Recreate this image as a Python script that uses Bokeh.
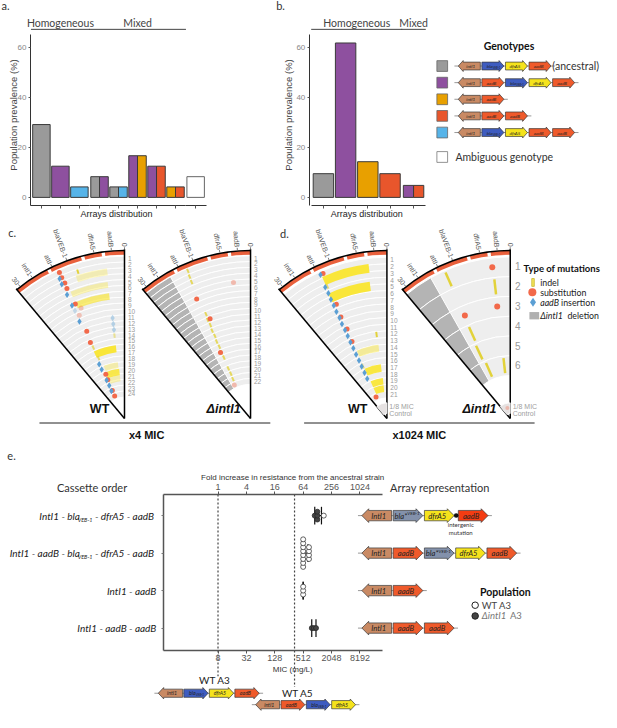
import math
from bokeh.plotting import figure
from bokeh.models import (Range1d, LinearAxis, LogAxis, LogScale, FixedTicker,
                          NumeralTickFormatter, CustomJSTickFormatter)
from bokeh.core.properties import value
from bokeh.embed import file_html
from bokeh.resources import INLINE

# ======================= DATA =======================
# genotypes (legend)
geno_ids = ["G1", "G2", "G3", "G4", "G5"]
geno_colors = {"G1": "#9a9a9a", "G2": "#8e509f", "G3": "#e8a000", "G4": "#e8562c",
               "G5": "#56b4e9", "AMB": "#ffffff"}
geno_arrays = [["intI1", "bla", "dfrA5", "aadB"],
               ["intI1", "aadB", "bla", "dfrA5", "aadB"],
               ["intI1", "aadB"],
               ["intI1", "aadB", "aadB"],
               ["intI1", "bla", "dfrA5", "aadB", "aadB"]]

# panel a
a_facets = ["Homogeneous"] * 3 + ["Mixed"] * 5 + ["Ambiguous"]
a_geno_left = ["G1", "G2", "G5", "G1", "G1", "G2", "G2", "G3", "AMB"]
a_geno_right = ["G1", "G2", "G5", "G2", "G5", "G3", "G4", "G4", "AMB"]
a_prevalence = [29.2, 12.5, 4.2, 8.3, 4.2, 16.7, 12.5, 4.2, 8.3]
# panel b
b_facets = ["Homogeneous"] * 4 + ["Mixed"]
b_geno_left = ["G1", "G2", "G3", "G4", "G2"]
b_geno_right = ["G1", "G2", "G3", "G4", "G4"]
b_prevalence = [9.5, 61.9, 14.3, 9.5, 4.8]
prev_ticks = [0, 20, 40, 60]

# fans: genome position units (0 .. 30)
arc_labels = ["30", "intI1", "attI", "blaVEB-1", "dfrA5", "aadB", "0"]
arc_label_pos = [30.0, 26.0, 20.0, 15.7, 8.2, 3.5, 0.0]
band_gap_pos = [5.7, 11.3, 21.0]
# (ring, position, alpha)
c_wt_sub = [(1, 18.8, 1), (2, 18.8, 1), (3, 18.6, 1), (4, 18.7, 1), (7, 18.2, 1), (8, 16.8, 0.35),
            (9, 18.5, 0.35), (12, 18.3, 1), (14, 18.9, 1), (20, 17.9, 1), (21, 18.3, 1),
            (23, 18.5, 1), (24, 18.5, 1)]
c_wt_ins = [(2, 19.5, 1), (3, 19.6, 1), (5, 19.5, 1), (7, 19.5, 1), (8, 19.3, 0.3), (10, 19.5, 1),
            (18, 19.6, 1), (19, 19.6, 1), (21, 19.6, 1), (22, 19.5, 1), (23, 19.9, 1),
            (11, 5.3, 0.4), (12, 5.3, 0.4), (13, 5.3, 0.4)]
c_wt_indel = [(2, 13.8, 1), (14, 5.4, 0.5), (15, 18.6, 0.7), (17, 18.2, 0.7)]
# (ring, thickness in rings, pos from, pos to, alpha)
c_wt_band = [(3.0, 1.2, 5.2, 14.7, 0.3), (5.2, 1.0, 5.5, 18.0, 0.35), (7.2, 1.1, 5.5, 17.9, 0.65),
             (16.2, 1.2, 5.3, 19.2, 0.95), (19.0, 1.0, 5.3, 16.8, 0.35), (20.2, 1.1, 4.8, 17.8, 0.85),
             (21.3, 1.0, 4.8, 17.0, 0.35)]
c_del_sub = [(5, 5.6, 0.4), (6, 19.0, 1), (10, 17.3, 1), (16, 19.2, 1), (22, 20.3, 0.4)]
c_del_indel = [(1, 18.0, 0.8), (2, 18.2, 0.8), (3, 18.3, 0.8), (9, 18.1, 0.8), (10, 18.4, 0.8),
               (11, 18.2, 0.8), (12, 18.5, 0.8), (13, 18.3, 0.8), (14, 18.6, 0.8), (15, 18.4, 0.8),
               (16, 18.7, 0.8), (17, 18.5, 0.8), (19, 18.8, 0.8), (20, 18.6, 0.8), (21, 18.9, 0.8)]
c_del_start = 23.0
d_wt_sub = [(1, 18.6, 1), (6, 18.7, 1), (8, 19.1, 1), (10, 18.8, 1), (12, 19.1, 1), (21, 21.0, 1)]
d_wt_ins = [(1, 19.4, 1), (3, 19.7, 1), (4, 19.6, 1), (5, 19.7, 1), (6, 19.7, 1), (7, 19.8, 1),
            (8, 19.7, 1), (9, 19.9, 1), (10, 19.8, 1), (11, 19.9, 1), (12, 20.0, 1), (13, 20.0, 1),
            (14, 20.1, 1), (15, 20.1, 1), (16, 20.3, 1), (17, 20.4, 1), (18, 20.7, 1)]
d_wt_indel = [(12, 5.5, 1), (3, 19.0, 0.7), (16, 19.3, 0.6)]
d_wt_band = [(2.0, 1.3, 5.3, 19.2, 0.95), (4.7, 1.4, 5.6, 19.6, 0.95), (14.0, 1.0, 5.1, 18.7, 0.45),
             (17.0, 1.1, 5.0, 18.9, 0.9), (19.0, 1.0, 4.5, 18.5, 0.9), (20.1, 1.0, 4.5, 18.5, 0.9)]
d_del_sub = [(1, 5.3, 1), (3, 5.2, 1), (3, 18.6, 1)]
d_del_indel = [(1, 18.7, 1), (2, 5.1, 1), (4, 19.0, 1), (5, 19.7, 1), (6, 18.5, 1), (6, 5.0, 1)]
d_del_start = 23.0

# panel e
e_rows = [4, 3, 2, 1]
e_lead = ["IntI1 - bla", "IntI1 - aadB - bla", "IntI1 - aadB", "IntI1 - aadB - aadB"]
e_sub = ["VEB-1", "VEB-1", "", ""]
e_tail = [" - dfrA5 - aadB", " - dfrA5 - aadB", "", ""]
e_arrays = [["intI1", "bla*", "dfrA5", "aadB*"],
            ["intI1", "aadB", "bla*", "dfrA5", "aadB"],
            ["intI1", "aadB"],
            ["intI1", "aadB", "aadB"]]
e_pt_row = [4, 4, 4, 4, 4] + [3] * 12 + [2, 2, 2] + [1, 1, 1]
e_pt_mic = [1024, 1024, 1024, 900, 1400] + [512] * 8 + [680] * 4 + [512, 512, 512] + [780, 860, 960]
e_pt_pop = ["D", "D", "D", "D", "WT"] + ["WT"] * 12 + ["WT"] * 3 + ["D", "D", "D"]
mic_ticks = [8, 32, 128, 512, 2048, 8192]
fold_ticks = [1, 4, 16, 64, 256, 1024]
ancestral_mic = [8, 336]
ancestral_names = ["WT A3", "WT A5"]
ancestral_arrays = [["intI1", "bla", "dfrA5", "aadB"], ["intI1", "aadB", "bla", "dfrA5"]]

GENE_COL = {"intI1": "#c98a64", "bla": "#3e5cc0", "dfrA5": "#f5e31c", "aadB": "#ef5a2b",
            "bla*": "#8391ab", "aadB*": "#f43c12"}

# ======================= FIGURE =======================
W_REF, H_REF = 617, 728
F_UI = "Lato"
F_PL = "Liberation Sans"

p = figure(width=601, height=712, x_range=Range1d(0, W_REF), y_range=Range1d(H_REF, 0),
           x_axis_location=None, y_axis_location=None, output_backend="svg",
           toolbar_location=None, min_border=0)
p.outline_line_color = None
p.grid.visible = False


def rng_x(v0, p0, v1, p1, log=False):
    f = math.log10 if log else (lambda v: v)
    a0, a1 = f(v0), f(v1)
    t0, t1 = p0 / W_REF, p1 / W_REF
    span = (a1 - a0) / (t1 - t0)
    s = a0 - t0 * span
    return Range1d(10 ** s, 10 ** (s + span)) if log else Range1d(s, s + span)


def rng_y(v0, p0, v1, p1):
    t0, t1 = (H_REF - p0) / H_REF, (H_REF - p1) / H_REF
    span = (v1 - v0) / (t1 - t0)
    s = v0 - t0 * span
    return Range1d(s, s + span)


def inv(px, v0, p0, v1, p1, log=False):
    if log:
        return 10 ** (math.log10(v0) + (px - p0) * (math.log10(v1) - math.log10(v0)) / (p1 - p0))
    return v0 + (px - p0) * (v1 - v0) / (p1 - p0)


AX = (0, 42.0, 1, 61.5)
BX = (0, 331.5, 1, 354.3)
AY = (0, 201.3, 60, 48.3)
MIC = (8, 223.3, 8192, 369.0)
FOLD = (1, 223.3, 1024, 369.0)
EROW = (1, 641.7, 4, 526.7)

p.extra_x_ranges = {"ax": rng_x(*AX), "bx": rng_x(*BX),
                    "mic": rng_x(*MIC, log=True), "fold": rng_x(*FOLD, log=True)}
p.extra_x_scales = {"mic": LogScale(), "fold": LogScale()}
p.extra_y_ranges = {"ay": rng_y(*AY), "erow": rng_y(*EROW)}


def T(x, y, s, size=10.0, font=F_UI, style="normal", color="#333333", align="left",
      baseline="middle", angle=0.0, xn="default", yn="default"):
    xs = list(x) if isinstance(x, (list, tuple)) else [x]
    ys = list(y) if isinstance(y, (list, tuple)) else [y]
    ss = list(s) if isinstance(s, (list, tuple)) else [s]
    n = max(len(xs), len(ys), len(ss))
    xs = xs * n if len(xs) == 1 else xs
    ys = ys * n if len(ys) == 1 else ys
    ss = ss * n if len(ss) == 1 else ss
    angs = list(angle) if isinstance(angle, (list, tuple)) else [angle] * n
    p.text(x=xs, y=ys, text=ss, angle=angs, text_font=value(font),
           text_font_size=value(f"{size}px"), text_font_style=style, text_color=color,
           text_align=align, text_baseline=baseline, x_range_name=xn, y_range_name=yn)


# ======================= PANELS a / b =======================
BW = 0.92


def bar_panel(facets, left, right, vals, xn, yaxis_x):
    order = []
    for f in facets:
        if f not in order:
            order.append(f)
    pos = [i + 0.06 * order.index(f) for i, f in enumerate(facets)]
    xs, ws, tops, cols, lcs = [], [], [], [], []
    for x, gl, gr, v in zip(pos, left, right, vals):
        lc = "#666666" if gl == "AMB" else "#3a3a3a"
        if gl == gr:
            xs += [x]; ws += [BW]; tops += [v]; cols += [geno_colors[gl]]; lcs += [lc]
        else:
            xs += [x - BW / 4, x + BW / 4]; ws += [BW / 2, BW / 2]; tops += [v, v]
            cols += [geno_colors[gl], geno_colors[gr]]; lcs += [lc, lc]
    p.vbar(x=xs, width=ws, top=tops, bottom=0, fill_color=cols, line_color=lcs, line_width=1,
           x_range_name=xn, y_range_name="ay")
    yax = LinearAxis(y_range_name="ay", fixed_location=yaxis_x,
                     bounds=(inv(209.3, *AY), inv(35.0, *AY)),
                     ticker=FixedTicker(ticks=prev_ticks), major_tick_out=2, major_tick_in=0,
                     minor_tick_line_color=None, axis_line_color="#333333",
                     major_tick_line_color="#555555", major_label_text_font_size="8px",
                     major_label_text_color="#888888", major_label_text_font=F_PL,
                     major_label_standoff=2)
    p.add_layout(yax, "left")
    for f in order:
        fp = [x for x, ff in zip(pos, facets) if ff == f]
        lo, hi = min(fp) - 0.55, max(fp) + 0.55
        xax = LinearAxis(x_range_name=xn, fixed_location=209.3, bounds=(lo, hi),
                         ticker=FixedTicker(ticks=fp), major_tick_out=3, major_tick_in=0,
                         minor_tick_line_color=None, axis_line_color="#333333",
                         major_tick_line_color="#555555",
                         formatter=CustomJSTickFormatter(code="return ''"))
        p.add_layout(xax, "below")
        if f != "Ambiguous":
            p.segment(x0=[lo], y0=[29.5], x1=[hi], y1=[29.5], line_color="#444444",
                      line_width=1, x_range_name=xn)
            T((lo + hi) / 2, 23.5, f, size=10.5, color="#444444", align="center", xn=xn)


bar_panel(a_facets, a_geno_left, a_geno_right, a_prevalence, "ax", 30.7)
bar_panel(b_facets, b_geno_left, b_geno_right, b_prevalence, "bx", 317.0)
T(13, 117, "Population prevalence (%)", size=9.5, font=F_PL, color="#444444",
  align="center", angle=math.pi / 2)
T(295.5, 117, "Population prevalence (%)", size=9.5, font=F_PL, color="#444444",
  align="center", angle=math.pi / 2)
T(119, 218, "Arrays distribution", size=9, font=F_PL, color="#222222", align="center")
T(376, 218, "Arrays distribution", size=9, font=F_PL, color="#222222", align="center")
T(1, 5, "a.", size=11)
T(283, 5, "b.", size=11)


# ======================= gene arrows =======================
def draw_array(genes, x_start, pitch, width, yc, hb, hh, hw, lsize, yn="default",
               int_label="intI1", extra=None, pad=4.0, line_col="#999999"):
    xs, ys, cols = [], [], []
    labs = []
    x = x_start
    last = x_start
    for i, g in enumerate(genes):
        if extra and i in extra:
            x += extra[i]
        x0, x1 = x, x + width
        if g == "intI1":
            px = [x1, x0 + hw, x0 + hw, x0, x0 + hw, x0 + hw, x1]
            cxl = (x0 + hw * 0.6 + x1) / 2
        else:
            px = [x0, x1 - hw, x1 - hw, x1, x1 - hw, x1 - hw, x0]
            cxl = (x0 + x1 - hw * 0.6) / 2
        py = [yc - hb, yc - hb, yc - hh, yc, yc + hh, yc + hb, yc + hb]
        xs.append(px); ys.append(py); cols.append(GENE_COL[g])
        labs.append((g, cxl))
        last = x1
        x += pitch
    p.segment(x0=[x_start - pad], y0=[yc], x1=[last + pad], y1=[yc], line_color=line_col,
              line_width=1, y_range_name=yn)
    p.patches(xs=xs, ys=ys, fill_color=cols, line_color="#3a3a3a", line_width=0.7,
              y_range_name=yn)
    for g, cxl in labs:
        if g.startswith("bla"):
            T(cxl + 1.2, yc, "bla" + ("*" if g == "bla*" else ""), size=lsize, style="italic",
              color="#222222", align="right", yn=yn)
            T(cxl + 1.4, yc + hb * 0.45, "VEB-1", size=lsize * 0.6, style="italic",
              color="#222222", align="left", yn=yn)
        else:
            lab = int_label if g == "intI1" else ("aadB" if g.startswith("aadB") else g)
            T(cxl, yc, lab, size=lsize, style="italic", color="#222222", align="center", yn=yn)
    return last


# legend genotypes
T(522, 47, "Genotypes", size=10.5, style="bold", color="#111111", align="center")
leg_y = [67, 84, 101, 118, 135]
p.rect(x=[453.5] * 5, y=leg_y, width=11, height=11, fill_color=[geno_colors[g] for g in geno_ids],
       line_color="#666666", line_width=0.8)
for arr, yy in zip(geno_arrays, leg_y):
    draw_array(arr, 470.0, 24.2, 22.6, yy, 4.0, 5.6, 5.0, 4.6)
T(566.5, 66.5, "(ancestral)", size=10.5, color="#333333")
p.rect(x=[453.5], y=[160], width=11, height=11, fill_color="white", line_color="#777777",
       line_width=0.8)
T(467, 160, "Ambiguous genotype", size=10.5, color="#333333")

# ======================= FANS =======================
UNIT_DEG = 1.283
SPAN = 31.2
DEG = math.pi / 180


def ang(pos):
    return (90.0 + pos * UNIT_DEG) * DEG


def pol(cx, cy, r, pos):
    a = ang(pos)
    return cx + r * math.cos(a), cy - r * math.sin(a)


def draw_fan(cx, cy, n, r1, dr, subs, ins, indels, bands, del_start=None, num_size=6.5,
             num_dx=3.5, indel_w=2.0, sub_size=5.0, ins_size=6.5, R=170.0):
    radii = [r1 - i * dr for i in range(n)]
    p.annular_wedge(x=cx, y=cy, inner_radius=[r - dr / 2 for r in radii],
                    outer_radius=[r + dr / 2 for r in radii], start_angle=ang(0),
                    end_angle=ang(SPAN), fill_color="#eeeeee", line_color="white", line_width=1)
    if del_start is not None:
        p.annular_wedge(x=cx, y=cy, inner_radius=[r - dr / 2 for r in radii],
                        outer_radius=[r + dr / 2 for r in radii], start_angle=ang(del_start),
                        end_angle=ang(SPAN), fill_color="#b4b4b4", line_color="white",
                        line_width=1)
    if bands:
        rr = [r1 - (b[0] - 1) * dr for b in bands]
        p.annular_wedge(x=cx, y=cy, inner_radius=[r - b[1] * dr / 2 for r, b in zip(rr, bands)],
                        outer_radius=[r + b[1] * dr / 2 for r, b in zip(rr, bands)],
                        start_angle=[ang(b[2]) for b in bands], end_angle=[ang(b[3]) for b in bands],
                        fill_color="#f9e52e", fill_alpha=[b[4] for b in bands], line_color=None)
    if indels:
        x0, y0, x1, y1, al = [], [], [], [], []
        for ring, pos, a in indels:
            r = r1 - (ring - 1) * dr
            xa, ya = pol(cx, cy, r - 0.38 * dr, pos)
            xb, yb = pol(cx, cy, r + 0.38 * dr, pos)
            x0.append(xa); y0.append(ya); x1.append(xb); y1.append(yb); al.append(a)
        p.segment(x0=x0, y0=y0, x1=x1, y1=y1, line_color="#e2d23a", line_width=indel_w,
                  line_alpha=al)
    for data, marker, col, size in ((subs, "circle", "#f2694a", sub_size),
                                    (ins, "diamond", "#5b9fd4", ins_size)):
        if not data:
            continue
        pts = [pol(cx, cy, r1 - (ring - 1) * dr, pos) for ring, pos, a in data]
        p.scatter(x=[q[0] for q in pts], y=[q[1] for q in pts], marker=marker, size=size,
                  fill_color=col, line_color=None, fill_alpha=[d[2] for d in data])
    p.annular_wedge(x=cx, y=cy, inner_radius=R - 2.0, outer_radius=R + 2.0, start_angle=ang(0),
                    end_angle=ang(SPAN), fill_color="#e9603c", line_color=None)
    p.annular_wedge(x=cx, y=cy, inner_radius=R - 2.5, outer_radius=R + 2.5,
                    start_angle=[ang(g - 0.45) for g in band_gap_pos],
                    end_angle=[ang(g + 0.45) for g in band_gap_pos], fill_color="white",
                    line_color=None)
    p.arc(x=cx, y=cy, radius=R + 2.3, start_angle=ang(0), end_angle=ang(SPAN),
          line_color="black", line_width=1.5)
    e0 = pol(cx, cy, R + 3, 0)
    e1 = pol(cx, cy, R + 3, SPAN)
    p.segment(x0=[cx, cx], y0=[cy, cy], x1=[e0[0], e1[0]], y1=[e0[1], e1[1]],
              line_color="black", line_width=1.5)
    t0 = [pol(cx, cy, R + 2.5, q) for q in arc_label_pos]
    t1 = [pol(cx, cy, R + 5.0, q) for q in arc_label_pos]
    p.segment(x0=[q[0] for q in t0], y0=[q[1] for q in t0], x1=[q[0] for q in t1],
              y1=[q[1] for q in t1], line_color="#555555", line_width=0.8)
    tl = [pol(cx, cy, R + 5.5, q) for q in arc_label_pos]
    T([q[0] for q in tl], [q[1] for q in tl], arc_labels, size=7, font=F_PL, color="#555555",
      align="right", angle=[(q * UNIT_DEG - 90) * DEG for q in arc_label_pos])
    T([cx + num_dx] * n, [cy - r for r in radii], [str(i + 1) for i in range(n)],
      size=num_size, font=F_PL, color="#9a9a9a")


CY = 427.3
draw_fan(127.3, CY, 24, 163.5, 6.02, c_wt_sub, c_wt_ins, c_wt_indel, c_wt_band)
draw_fan(256.7, CY, 22, 164.0, 6.0, c_del_sub, None, c_del_indel, None, del_start=c_del_start)
draw_fan(396.7, CY, 21, 162.0, 6.87, d_wt_sub, d_wt_ins, d_wt_indel, d_wt_band)
draw_fan(523.3, CY, 6, 155.7, 20.3, d_del_sub, None, d_del_indel, None, del_start=d_del_start,
         num_size=10, num_dx=5, indel_w=2.5, sub_size=6)

# control slices (1/8 MIC)
for cx in (396.7, 523.3):
    p.annular_wedge(x=cx, y=CY, inner_radius=5, outer_radius=16, start_angle=ang(0),
                    end_angle=ang(SPAN), fill_color="#e6e2e2", line_color="white", line_width=0.8)
    T(cx + 2.5, 415.5, "1/8 MIC", size=7, font=F_PL, color="#a0a0a0")
    T(cx + 2.5, 422.5, "Control", size=7, font=F_PL, color="#a0a0a0")
q = pol(523.3, CY, 11, 12)
p.scatter(x=[q[0]], y=[q[1]], size=4, fill_color="#f2694a", fill_alpha=0.35, line_color=None)

T(101.7, 418, "WT", size=12.5, font=F_PL, style="bold", color="#111111", align="center")
T(229, 418, "ΔintI1", size=12.5, font=F_PL, style="bold italic", color="#111111", align="center")
T(366.7, 418, "WT", size=12.5, font=F_PL, style="bold", color="#111111", align="center")
T(491.7, 418, "ΔintI1", size=12.5, font=F_PL, style="bold italic", color="#111111", align="center")
p.segment(x0=[40, 311.7], y0=[432, 432], x1=[277, 548.3], y1=[432, 432], line_color="#222222",
          line_width=1)
T(150, 444.5, "x4 MIC", size=11, font=F_PL, style="bold", color="#111111", align="center")
T(430, 444.5, "x1024 MIC", size=11, font=F_PL, style="bold", color="#111111", align="center")
T(8, 237, "c.", size=11)
T(287, 238, "d.", size=11)

# mutation legend
T(537, 274, "Type of mutations", size=9.5, style="bold", color="#111111")
p.rect(x=[546.7], y=[288.3], width=2.6, height=8, fill_color="#f3e45a", line_color="#c9b830",
       line_width=0.8)
p.scatter(x=[546.0], y=[298.3], size=8, marker="circle", fill_color="#f2694a", line_color=None)
p.scatter(x=[546.7], y=[308.6], size=9, marker="diamond", fill_color="#5b9fd4", line_color=None)
p.rect(x=[548.0], y=[322.3], width=10, height=7.5, fill_color="#b0b0b0", line_color=None)
T(554, 288.3, "indel", size=8.8, color="#222222")
T(554, 298.3, "substitution", size=8.8, color="#222222")
T(554, 308.6, "aadB", size=8.8, style="italic", color="#222222")
T(575.5, 308.6, "insertion", size=8.8, color="#222222")
T(554, 322.3, "ΔintI1", size=8.8, style="italic", color="#222222")
T(582, 322.3, "deletion", size=8.8, color="#222222")

# ======================= PANEL e =======================
T(7, 466, "e.", size=11)
FR_L, FR_R, FR_T, FR_B = 167.3, 391.7, 505.0, 665.0
top_ax = LogAxis(x_range_name="fold", fixed_location=FR_T,
                 bounds=(inv(FR_L, *FOLD, log=True), inv(FR_R, *FOLD, log=True)),
                 ticker=FixedTicker(ticks=fold_ticks), formatter=NumeralTickFormatter(format="0"),
                 major_tick_out=3, major_tick_in=0, minor_tick_line_color=None,
                 axis_line_color="#555555", axis_line_width=1.5, major_tick_line_color="#555555",
                 major_label_text_font_size="9px", major_label_text_color="#555555",
                 major_label_text_font=F_PL, major_label_standoff=1)
p.add_layout(top_ax, "above")
bot_ax = LogAxis(x_range_name="mic", fixed_location=FR_B,
                 bounds=(inv(FR_L, *MIC, log=True), inv(FR_R, *MIC, log=True)),
                 ticker=FixedTicker(ticks=mic_ticks), formatter=NumeralTickFormatter(format="0"),
                 major_tick_out=3, major_tick_in=0, minor_tick_line_color=None,
                 axis_line_color="#555555", axis_line_width=1.5, major_tick_line_color="#555555",
                 major_label_text_font_size="9px", major_label_text_color="#555555",
                 major_label_text_font=F_PL, major_label_standoff=1)
p.add_layout(bot_ax, "below")
left_ax = LinearAxis(y_range_name="erow", fixed_location=FR_L,
                     bounds=(inv(FR_B, *EROW), inv(FR_T, *EROW)),
                     ticker=FixedTicker(ticks=e_rows), formatter=CustomJSTickFormatter(code="return ''"),
                     major_tick_out=2, major_tick_in=0, minor_tick_line_color=None,
                     axis_line_color="#555555", axis_line_width=1.5, major_tick_line_color="#777777")
p.add_layout(left_ax, "left")

T(300, 487.7, "Fold increase in resistance from the ancestral strain", size=8, font=F_PL,
  color="#333333", align="center")
T(300, 684.5, "MIC (mg/L)", size=8, font=F_PL, color="#333333", align="center")
T(94, 497.7, "Cassette order", size=11, color="#333333", align="center")
T(451, 498.3, "Array representation", size=11, color="#333333", align="center")

# dashed ancestral lines
p.segment(x0=ancestral_mic, y0=[FR_T, FR_T], x1=ancestral_mic, y1=[691, 702],
          line_color="#444444", line_width=1.2, line_dash="2 2", x_range_name="mic")

# row labels (with subscripts)
for r, lead, sub, tail in zip(e_rows, e_lead, e_sub, e_tail):
    if sub:
        T(160, r, tail, size=10, style="italic", color="#222222", align="right", yn="erow")
        T(94.5, r - 0.11, sub, size=5.5, style="italic", color="#222222", align="right",
          yn="erow")
        T(81.5, r, lead, size=10, style="italic", color="#222222", align="right", yn="erow")
    else:
        T(160, r, lead, size=10, style="italic", color="#222222", align="right", yn="erow")

# points with vertical dodge for identical values
DODGE = 0.105
px_, py_, pf_ = [], [], []
for r in e_rows:
    idx = [i for i, rr in enumerate(e_pt_row) if rr == r]
    vals = sorted(set(e_pt_mic[i] for i in idx))
    for v in vals:
        same = [i for i in idx if e_pt_mic[i] == v]
        k = len(same)
        for j, i in enumerate(same):
            px_.append(v)
            py_.append(r + (j - (k - 1) / 2) * DODGE)
            pf_.append("white" if e_pt_pop[i] == "WT" else "#444444")
ex0, ex1, ey, cx_, cy0, cy1 = [], [], [], [], [], []
for r in e_rows:
    lv = [math.log2(m) for m, rr in zip(e_pt_mic, e_pt_row) if rr == r]
    mu = sum(lv) / len(lv)
    sd = math.sqrt(sum((x - mu) ** 2 for x in lv) / (len(lv) - 1))
    lo, hi = 2 ** (mu - sd), 2 ** (mu + sd)
    ex0.append(lo); ex1.append(hi); ey.append(r)
    cx_ += [lo, hi]; cy0 += [r - 0.235, r - 0.235]; cy1 += [r + 0.235, r + 0.235]
p.segment(x0=ex0, y0=ey, x1=ex1, y1=ey, line_color="#111111", line_width=1.2,
          x_range_name="mic", y_range_name="erow")
p.segment(x0=cx_, y0=cy0, x1=cx_, y1=cy1, line_color="#111111", line_width=1.2,
          x_range_name="mic", y_range_name="erow")
p.scatter(x=px_, y=py_, size=5, marker="circle", fill_color=pf_, line_color="#222222",
          line_width=0.7, x_range_name="mic", y_range_name="erow")

# array representation
ROW_PX = 38.33
for r, arr in zip(e_rows, e_arrays):
    extra = {3: 2.7} if "aadB*" in arr else None
    draw_array(arr, 371.0, 32.1, 30.5, r, 5.3 / ROW_PX, 7.0 / ROW_PX, 7.0, 7.6, yn="erow",
               int_label="IntI1", extra=extra)
p.scatter(x=[467.8], y=[4], size=4.5, fill_color="#111111", line_color=None, y_range_name="erow")
T(472.5, 535.5, "intergenic", size=6, color="#333333", align="center")
T(472.5, 543.5, "mutation", size=6, color="#333333", align="center")

# population legend
T(518.3, 605, "Population", size=10.5, style="bold", color="#111111", align="center")
p.scatter(x=[487.3, 487.3], y=[618.3, 629.3], size=6.5, fill_color=["white", "#444444"],
          line_color="#222222", line_width=1)
T(494, 618.3, "WT A3", size=9.5, color="#444444")
T(494, 629.3, "ΔintI1", size=9.5, style="italic", color="#777777")
T(523, 629.3, "A3", size=9.5, color="#777777")

# ancestral strains arrays below
T(220, 695, ancestral_names[0], size=10, color="#222222", align="center")
draw_array(ancestral_arrays[0], 162.0, 26.2, 25.0, 708.3, 4.2, 5.8, 5.5, 5.2)
T(305, 708, ancestral_names[1], size=10, color="#222222", align="center")
draw_array(ancestral_arrays[1], 262.0, 26.0, 24.5, 720.0, 4.2, 5.8, 5.5, 5.2)

open("out.html", "w").write(file_html(p, INLINE))
